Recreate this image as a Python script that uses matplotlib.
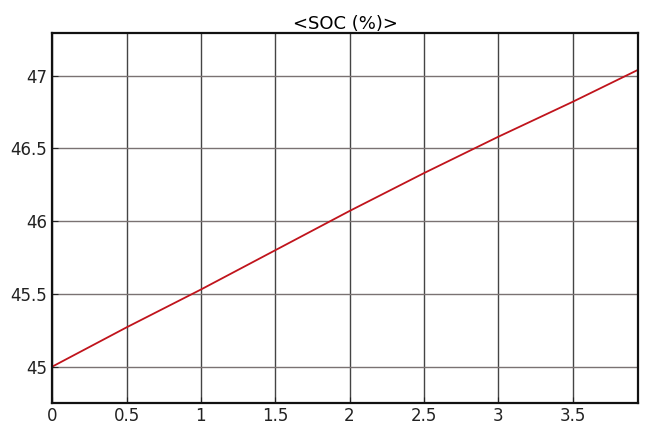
import matplotlib
matplotlib.use("Agg")
import matplotlib.pyplot as plt
import numpy as np

# time axis and state of charge values
time = [0.0, 0.5, 1.0, 1.5, 2.0, 2.5, 3.0, 3.5, 3.94]
soc = [45.0, 45.27, 45.53, 45.80, 46.07, 46.33, 46.58, 46.82, 47.04]

xticks = [0, 0.5, 1, 1.5, 2, 2.5, 3, 3.5]
xtick_labels = ['0', '0.5', '1', '1.5', '2', '2.5', '3', '3.5']
yticks = [45, 45.5, 46, 46.5, 47]
ytick_labels = ['45', '45.5', '46', '46.5', '47']

fig = plt.figure(figsize=(6.45, 4.26), dpi=100)
ax = fig.add_axes([0.081, 0.054, 0.908, 0.869])

ax.plot(time, soc, color='#c0141c', linewidth=1.3)

ax.set_xlim(0, 3.94)
ax.set_ylim(44.75, 47.295)
ax.set_xticks(xticks)
ax.set_xticklabels(xtick_labels)
ax.set_yticks(yticks)
ax.set_yticklabels(ytick_labels)
ax.tick_params(direction='in', length=4, labelsize=12, colors='#222222')
ax.tick_params(axis='x', pad=3)

# grid: dark verticals, lighter horizontals
ax.grid(True, axis='x', color='#444444', linewidth=1.0)
ax.grid(True, axis='y', color='#7a7272', linewidth=1.0)

for s in ax.spines.values():
    s.set_linewidth(1.6)
    s.set_color('#111111')

ax.set_title('<SOC (%)>', fontsize=13, fontweight='medium', pad=3)

fig.savefig('out.png', dpi=100)
